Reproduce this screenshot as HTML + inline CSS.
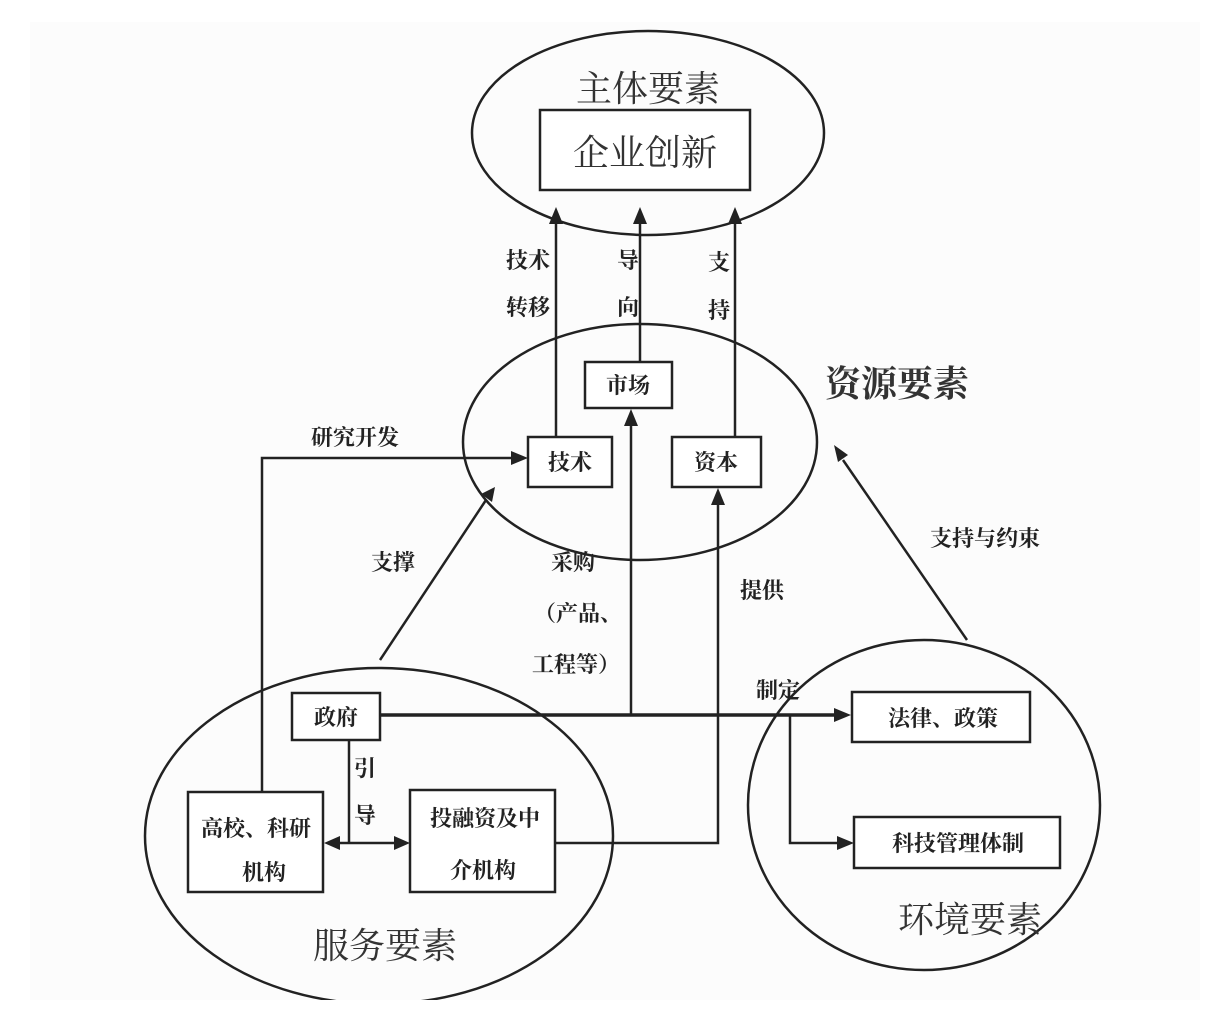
<!DOCTYPE html>
<html><head><meta charset="utf-8"><style>
html,body{margin:0;padding:0;background:#fff;}
svg{display:block;}
text{font-family:"Liberation Serif","Noto Serif CJK SC",serif;fill:#222;}
.big text{fill:#333;}
</style></head><body>
<svg width="1222" height="1029" viewBox="0 0 1222 1029" xmlns="http://www.w3.org/2000/svg">
<rect x="30" y="22" width="1170" height="978" fill="#fcfcfc"/>
<g fill="none" stroke="#222" stroke-width="2.5">
<ellipse cx="648" cy="133" rx="176" ry="102"/>
<ellipse cx="640" cy="442" rx="177" ry="118"/>
<ellipse cx="379" cy="836" rx="234" ry="168"/>
<ellipse cx="924" cy="805" rx="176" ry="165"/>
</g>
<rect x="0" y="1000" width="1222" height="29" fill="#fff"/>
<g fill="#fff" stroke="#222" stroke-width="2.5">
<rect x="540" y="110" width="210" height="80"/>
<rect x="585" y="362" width="87" height="46"/>
<rect x="528" y="437" width="84" height="50"/>
<rect x="672" y="437" width="89" height="50"/>
<rect x="292" y="693" width="88" height="47"/>
<rect x="188" y="792" width="135" height="100"/>
<rect x="410" y="790" width="145" height="102"/>
<rect x="852" y="692" width="178" height="50"/>
<rect x="854" y="817" width="206" height="51"/>
</g>
<g fill="none" stroke="#222" stroke-width="2.5">
<path d="M556 437V222"/><path d="M640 362V222"/><path d="M735 437V222"/>
<path d="M262 792V458H512"/>
<path d="M380 660L486 500"/>
<path d="M631 715V424"/>
<path d="M555 843H718V503"/>
<path d="M380 715H834" stroke-width="3.5"/>
<path d="M790 715V843H838"/>
<path d="M349 740V843"/>
<path d="M338 843H396"/>
<path d="M967 640L843 460"/>
</g>
<g fill="#222">
<path d="M556 207l-7 17h14z"/><path d="M640 207l-7 17h14z"/><path d="M735 207l-7 17h14z"/>
<path d="M528 458l-17-7v14z"/>
<path d="M495 487l-14 7 11 8z"/>
<path d="M631 409l-7 17h14z"/>
<path d="M718 488l-7 17h14z"/>
<path d="M851 715l-17-7v14z"/>
<path d="M854 843l-17-7v14z"/>
<path d="M324 843l16-7v14z"/>
<path d="M410 843l-16-7v14z"/>
<path d="M834 445l4 17 10-7z"/>
</g>
<g class="big" font-size="36" text-anchor="middle">
<text x="648" y="101">主体要素</text>
<text x="645" y="165">企业创新</text>
<text x="897" y="396" font-weight="bold">资源要素</text>
<text x="385" y="958">服务要素</text>
<text x="970" y="932">环境要素</text>
</g>
<g font-size="22" text-anchor="middle" font-weight="bold">
<text x="528" y="268">技术</text><text x="528" y="315">转移</text>
<text x="628" y="268">导</text><text x="628" y="315">向</text>
<text x="719" y="270">支</text><text x="719" y="318">持</text>
<text x="628" y="393">市场</text>
<text x="570" y="470">技术</text>
<text x="716" y="470">资本</text>
<text x="355" y="445">研究开发</text>
<text x="393" y="570">支撑</text>
<text x="573" y="570">采购</text>
<text x="578" y="621">（产品、</text>
<text x="576" y="672">工程等）</text>
<text x="762" y="598">提供</text>
<text x="985" y="546">支持与约束</text>
<text x="778" y="698">制定</text>
<text x="336" y="725">政府</text>
<text x="365" y="776">引</text><text x="365" y="823">导</text>
<text x="256" y="836">高校、科研</text><text x="264" y="880">机构</text>
<text x="485" y="826">投融资及中</text><text x="483" y="878">介机构</text>
<text x="943" y="726">法律、政策</text>
<text x="958" y="851">科技管理体制</text>
</g>
</svg>
</body></html>
